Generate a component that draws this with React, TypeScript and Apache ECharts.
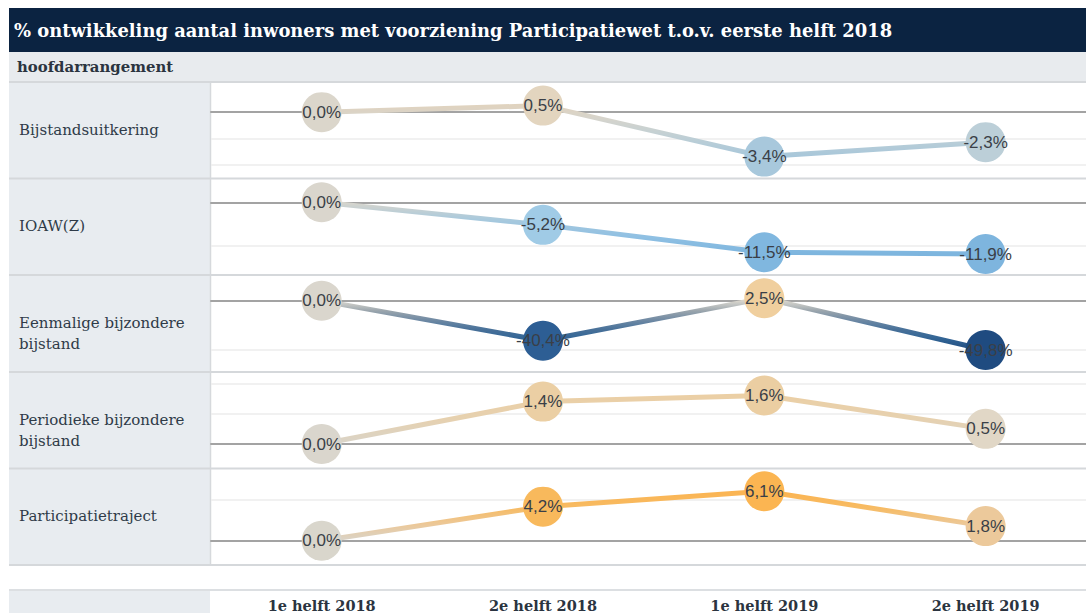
import React, { useEffect, useRef } from "react";
import * as echarts from "echarts";

// ---------- data ----------
const categories = ["1e helft 2018", "2e helft 2018", "1e helft 2019", "2e helft 2019"];
const rowLabels = [
  "Bijstandsuitkering",
  "IOAW(Z)",
  "Eenmalige bijzondere\nbijstand",
  "Periodieke bijzondere\nbijstand",
  "Participatietraject",
];
const bijstandsuitkering = [0.0, 0.5, -3.4, -2.3];
const ioawz = [0.0, -5.2, -11.5, -11.9];
const eenmaligeBijzondereBijstand = [0.0, -40.4, 2.5, -49.8];
const periodiekeBijzondereBijstand = [0.0, 1.4, 1.6, 0.5];
const participatietraject = [0.0, 4.2, 6.1, 1.8];
const seriesValues = [
  bijstandsuitkering,
  ioawz,
  eenmaligeBijzondereBijstand,
  periodiekeBijzondereBijstand,
  participatietraject,
];
const titleText = "% ontwikkeling aantal inwoners met voorziening Participatiewet t.o.v. eerste helft 2018";
const headerText = "hoofdarrangement";

// ---------- styles ----------
const markerColors = [
  ["#dbd6cb", "#e3d5bf", "#a8c8dc", "#bccfd8"],
  ["#dad6cd", "#a0cbe6", "#80b7df", "#7eb5de"],
  ["#dad6cd", "#2d5e94", "#f0cf9e", "#1f4b80"],
  ["#dad6cd", "#ebcfa4", "#ebcea2", "#e1d7c6"],
  ["#d9d6cc", "#f8b95c", "#fbb552", "#ecc99b"],
];
const lineScales = [
  { min: -3.5, max: 0.5, colors: ["#a6c6da", "#b5ccd8", "#c6d1d3", "#d6d4cc", "#e0d3bf"] },
  { min: -12, max: 0, colors: ["#7db5de", "#8fc0e3", "#a8c9dd", "#d8d5cc"] },
  {
    min: -50,
    max: 5,
    colors: [
      "#1f4b80", "#275689", "#2f6192", "#3a6a98", "#466f98", "#587c9f",
      "#6d88a3", "#8497a8", "#9ca6ad", "#bcc0c0", "#d9d5cc", "#f2c98f",
    ],
  },
  { min: 0, max: 1.6, colors: ["#d9d4c9", "#e6d1b0", "#ebcfa5"] },
  { min: 0, max: 6.1, colors: ["#d9d4ca", "#ecc898", "#f7bb63", "#fbb452"] },
];
// axis layout per row: value range, tick interval, grid top & height (px)
const rowAxes = [
  { min: -4, max: 2, interval: 2, top: 86, height: 78.4, showMin: true },
  { min: -20, max: 5, interval: 10, top: 180.5, height: 108.75, showMin: false },
  { min: -50, max: 20, interval: 50, top: 280.9, height: 69.3, showMin: true },
  { min: 0, max: 2.3, interval: 1, top: 374.3, height: 69.7, showMin: false },
  { min: 0, max: 8.5, interval: 5, top: 471.85, height: 68.85, showMin: false },
];
const rowLabelPos = [{ y: 130 }, { y: 226 }, { y: 333 }, { y: 430 }, { y: 516 }];
const rowBorders = [82, 178.5, 275, 372, 468.5, 565];

const SERIF = "'DejaVu Serif', 'Liberation Serif', serif";
const LABEL_FONT = "'Liberation Sans Narrow', 'Liberation Sans', Roboto, sans-serif";

function fmt(v: number) {
  return v.toFixed(1).replace(".", ",") + "%";
}

export default function App() {
  const ref = useRef<HTMLDivElement>(null);
  useEffect(() => {
    if (!ref.current) return;
    const chart = echarts.init(ref.current, null, { renderer: "svg" });

    const grid: any[] = [];
    const xAxis: any[] = [];
    const yAxis: any[] = [];
    const series: any[] = [];
    const visualMap: any[] = [];

    seriesValues.forEach((vals, i) => {
      const ax = rowAxes[i];
      grid.push({ left: 211, width: 885.3, top: ax.top, height: ax.height });
      xAxis.push({
        gridIndex: i,
        type: "category",
        data: categories,
        boundaryGap: true,
        axisLine: { show: true, onZero: true, lineStyle: { color: "#a3a3a3", width: 2 } },
        axisTick: { show: false },
        splitLine: { show: false },
        axisLabel: {
          show: i === seriesValues.length - 1,
          margin: 57,
          fontFamily: SERIF,
          fontWeight: "bold",
          fontSize: 14.5,
          color: "#2b3440",
        },
      });
      yAxis.push({
        gridIndex: i,
        type: "value",
        min: ax.min,
        max: ax.max,
        interval: ax.interval,
        axisLabel: { show: false },
        axisLine: { show: false },
        axisTick: { show: false },
        splitLine: {
          show: true,
          showMinLine: ax.showMin,
          showMaxLine: false,
          lineStyle: { color: "#ececec", width: 1.5 },
        },
      });
      const lineIdx = series.length;
      series.push({
        type: "line",
        name: rowLabels[i],
        xAxisIndex: i,
        yAxisIndex: i,
        data: vals,
        symbol: "none",
        lineStyle: { width: 5 },
        z: 2,
        silent: true,
      });
      visualMap.push({
        type: "continuous",
        show: false,
        seriesIndex: lineIdx,
        dimension: 1,
        min: lineScales[i].min,
        max: lineScales[i].max,
        inRange: { color: lineScales[i].colors },
      });
      series.push({
        type: "scatter",
        name: rowLabels[i] + " punten",
        xAxisIndex: i,
        yAxisIndex: i,
        symbolSize: 40,
        z: 3,
        data: vals.map((v, j) => ({ value: v, itemStyle: { color: markerColors[i][j], opacity: 1 } })),
        label: {
          show: true,
          position: "inside",
          formatter: (p: any) => fmt(p.value),
          fontFamily: LABEL_FONT,
          fontSize: 17,
          color: "#3a3f47",
        },
      });
    });

    const graphics: any[] = [
      { type: "rect", z: -10, shape: { x: 9, y: 8, width: 1077, height: 44 }, style: { fill: "#0b2341" } },
      {
        type: "text",
        z: 10,
        x: 14,
        y: 30,
        style: {
          text: titleText,
          fill: "#ffffff",
          font: `bold 17.9px ${SERIF}`,
          verticalAlign: "middle",
        },
      },
      { type: "rect", z: -10, shape: { x: 9, y: 52, width: 1077, height: 30 }, style: { fill: "#e8ebee" } },
      {
        type: "text",
        z: 10,
        x: 17,
        y: 67,
        style: { text: headerText, fill: "#2b3440", font: `bold 14.9px ${SERIF}`, verticalAlign: "middle" },
      },
      { type: "rect", z: -10, shape: { x: 9, y: 82, width: 201, height: 483 }, style: { fill: "#e8ecf0" } },
      { type: "rect", z: -10, shape: { x: 9, y: 591, width: 201, height: 22 }, style: { fill: "#e8ecf0" } },
      { type: "line", z: -5, shape: { x1: 210.5, y1: 82, x2: 210.5, y2: 565 }, style: { stroke: "#d6d9dc", lineWidth: 1.5 } },
      { type: "line", z: -5, shape: { x1: 9, y1: 590, x2: 1100, y2: 590 }, style: { stroke: "#dcdfe2", lineWidth: 2 } },
    ];
    rowBorders.forEach((y) => {
      graphics.push({
        type: "line",
        z: -5,
        shape: { x1: 9, y1: y, x2: 1100, y2: y },
        style: { stroke: "#d5d8db", lineWidth: 2 },
      });
    });
    rowLabels.forEach((t, i) => {
      graphics.push({
        type: "text",
        z: 10,
        x: 19,
        y: rowLabelPos[i].y,
        style: {
          text: t,
          fill: "#2f3b48",
          font: `15px ${SERIF}`,
          verticalAlign: "middle",
          lineHeight: 21,
        },
      });
    });

    chart.setOption({
      animation: false,
      backgroundColor: "#ffffff",
      grid,
      xAxis,
      yAxis,
      visualMap,
      series,
      graphic: { elements: graphics },
    });
    return () => chart.dispose();
  }, []);

  return (
    <div style={{ position: "fixed", left: 0, top: 0, width: 1086, height: 613, overflow: "hidden" }}>
      <div ref={ref} style={{ width: 1100, height: 613 }} />
    </div>
  );
}
